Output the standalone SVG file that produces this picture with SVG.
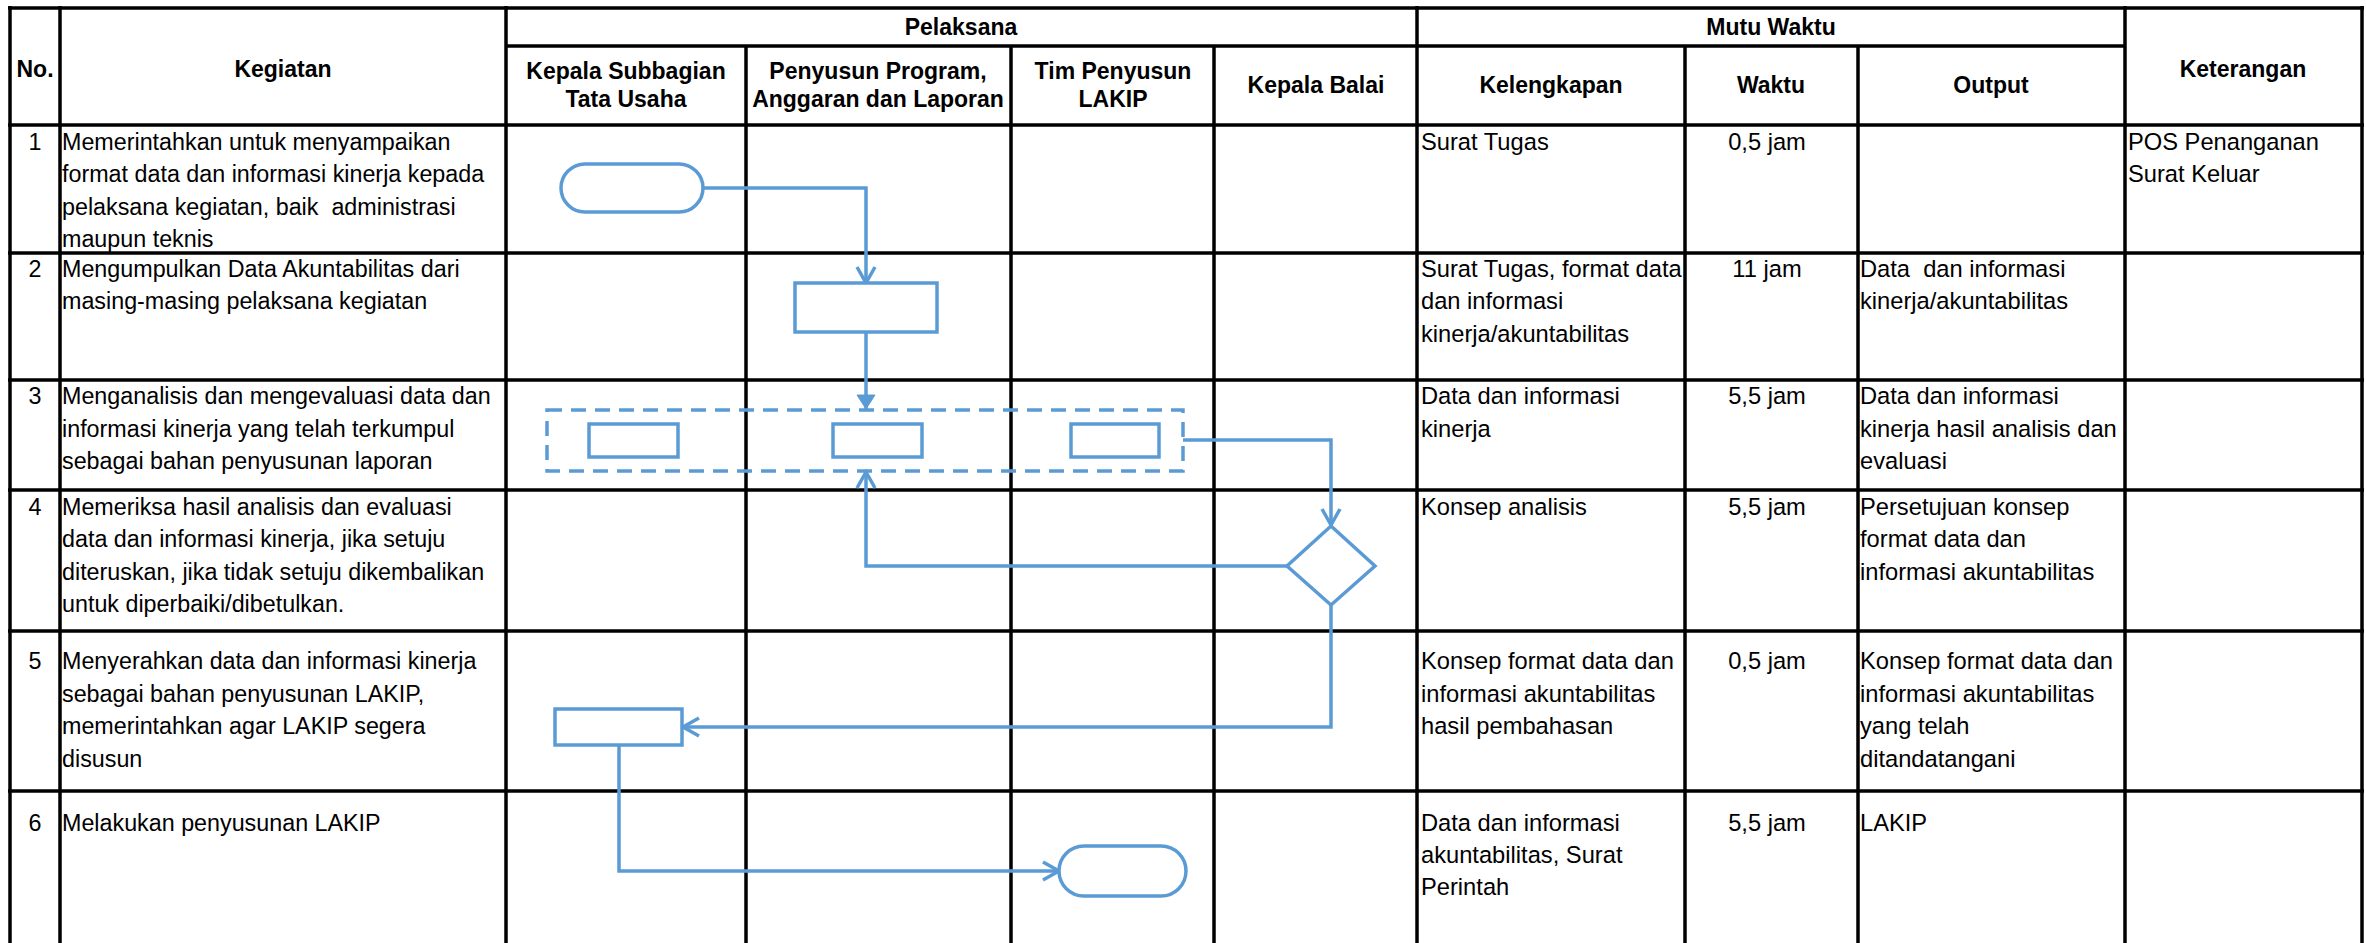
<svg xmlns="http://www.w3.org/2000/svg" width="2366" height="943" viewBox="0 0 2366 943">
<style>
  .grid line { stroke: #000; stroke-width: 3.5; }
  .h { font-family: "Liberation Sans", Arial, sans-serif; font-weight: bold; font-size: 23px; fill: #000; text-anchor: middle; }
  .t { font-family: "Liberation Sans", Arial, sans-serif; font-size: 23.3px; fill: #000; }
  .r { font-family: "Liberation Sans", Arial, sans-serif; font-size: 23.7px; fill: #000; }
  .c { text-anchor: middle; }
  .shape { fill: #fff; stroke: #5B9BD5; stroke-width: 3.5; }
  .dash { fill: none; stroke: #5B9BD5; stroke-width: 3.5; stroke-dasharray: 15 9; }
  .conn path { fill: none; stroke: #5B9BD5; stroke-width: 3.5; }
</style>
<defs>
  <marker id="open" markerUnits="userSpaceOnUse" markerWidth="26" markerHeight="26" viewBox="0 0 26 26" refX="21" refY="13" orient="auto" overflow="visible">
    <path d="M5,4 L21,13 L5,22" fill="none" stroke="#5B9BD5" stroke-width="3.5"/>
  </marker>
  <marker id="filled" markerUnits="userSpaceOnUse" markerWidth="26" markerHeight="26" viewBox="0 0 26 26" refX="21" refY="13" orient="auto" overflow="visible">
    <path d="M7,4 L21,13 L7,22 Z" fill="#5B9BD5" stroke="#5B9BD5" stroke-width="1"/>
  </marker>
</defs>
<rect x="0" y="0" width="2366" height="943" fill="#fff"/>

<g id="table" class="grid">
  <line x1="8" y1="8" x2="2364" y2="8"/>
  <line x1="506" y1="46" x2="2125" y2="46"/>
  <line x1="8" y1="125" x2="2364" y2="125"/>
  <line x1="8" y1="253" x2="2364" y2="253"/>
  <line x1="8" y1="380" x2="2364" y2="380"/>
  <line x1="8" y1="490" x2="2364" y2="490"/>
  <line x1="8" y1="631" x2="2364" y2="631"/>
  <line x1="8" y1="791" x2="2364" y2="791"/>
  <line x1="10" y1="6" x2="10" y2="943"/>
  <line x1="60" y1="6" x2="60" y2="943"/>
  <line x1="506" y1="6" x2="506" y2="943"/>
  <line x1="746" y1="46" x2="746" y2="943"/>
  <line x1="1011" y1="46" x2="1011" y2="943"/>
  <line x1="1214" y1="46" x2="1214" y2="943"/>
  <line x1="1417" y1="6" x2="1417" y2="943"/>
  <line x1="1685" y1="46" x2="1685" y2="943"/>
  <line x1="1858" y1="46" x2="1858" y2="943"/>
  <line x1="2125" y1="6" x2="2125" y2="943"/>
  <line x1="2362" y1="6" x2="2362" y2="943"/>
</g>

<g id="header">
  <text class="h" x="961" y="35">Pelaksana</text>
  <text class="h" x="1771" y="35">Mutu Waktu</text>
  <text class="h" x="35" y="77">No.</text>
  <text class="h" x="283" y="77">Kegiatan</text>
  <text class="h" x="2243" y="77">Keterangan</text>
  <text class="h" x="626" y="79">Kepala Subbagian<tspan x="626" y="107">Tata Usaha</tspan></text>
  <text class="h" x="878" y="79">Penyusun Program,<tspan x="878" y="107">Anggaran dan Laporan</tspan></text>
  <text class="h" x="1113" y="79">Tim Penyusun<tspan x="1113" y="107">LAKIP</tspan></text>
  <text class="h" x="1316" y="93">Kepala Balai</text>
  <text class="h" x="1551" y="93">Kelengkapan</text>
  <text class="h" x="1771" y="93">Waktu</text>
  <text class="h" x="1991" y="93">Output</text>
</g>

<g id="row1">
  <text class="t c" x="35" y="150">1</text>
  <text class="t" x="62" y="150">Memerintahkan untuk menyampaikan<tspan x="62" y="182">format data dan informasi kinerja kepada</tspan><tspan x="62" y="215" xml:space="preserve">pelaksana kegiatan, baik  administrasi</tspan><tspan x="62" y="247">maupun teknis</tspan></text>
  <text class="r" x="1421" y="150">Surat Tugas</text>
  <text class="r c" x="1767" y="150">0,5 jam</text>
  <text class="r" x="2128" y="150">POS Penanganan<tspan x="2128" y="182">Surat Keluar</tspan></text>
</g>

<g id="row2">
  <text class="t c" x="35" y="277">2</text>
  <text class="t" x="62" y="277">Mengumpulkan Data Akuntabilitas dari<tspan x="62" y="309">masing-masing pelaksana kegiatan</tspan></text>
  <text class="r" x="1421" y="277">Surat Tugas, format data<tspan x="1421" y="309">dan informasi</tspan><tspan x="1421" y="342">kinerja/akuntabilitas</tspan></text>
  <text class="r c" x="1767" y="277">11 jam</text>
  <text class="r" x="1860" y="277" xml:space="preserve">Data  dan informasi<tspan x="1860" y="309">kinerja/akuntabilitas</tspan></text>
</g>

<g id="row3">
  <text class="t c" x="35" y="404">3</text>
  <text class="t" x="62" y="404">Menganalisis dan mengevaluasi data dan<tspan x="62" y="437">informasi kinerja yang telah terkumpul</tspan><tspan x="62" y="469">sebagai bahan penyusunan laporan</tspan></text>
  <text class="r" x="1421" y="404">Data dan informasi<tspan x="1421" y="437">kinerja</tspan></text>
  <text class="r c" x="1767" y="404">5,5 jam</text>
  <text class="r" x="1860" y="404">Data dan informasi<tspan x="1860" y="437">kinerja hasil analisis dan</tspan><tspan x="1860" y="469">evaluasi</tspan></text>
</g>

<g id="row4">
  <text class="t c" x="35" y="515">4</text>
  <text class="t" x="62" y="515">Memeriksa hasil analisis dan evaluasi<tspan x="62" y="547">data dan informasi kinerja, jika setuju</tspan><tspan x="62" y="580">diteruskan, jika tidak setuju dikembalikan</tspan><tspan x="62" y="612">untuk diperbaiki/dibetulkan.</tspan></text>
  <text class="r" x="1421" y="515">Konsep analisis</text>
  <text class="r c" x="1767" y="515">5,5 jam</text>
  <text class="r" x="1860" y="515">Persetujuan konsep<tspan x="1860" y="547">format data dan</tspan><tspan x="1860" y="580">informasi akuntabilitas</tspan></text>
</g>

<g id="row5">
  <text class="t c" x="35" y="669">5</text>
  <text class="t" x="62" y="669">Menyerahkan data dan informasi kinerja<tspan x="62" y="702">sebagai bahan penyusunan LAKIP,</tspan><tspan x="62" y="734">memerintahkan agar LAKIP segera</tspan><tspan x="62" y="767">disusun</tspan></text>
  <text class="r" x="1421" y="669">Konsep format data dan<tspan x="1421" y="702">informasi akuntabilitas</tspan><tspan x="1421" y="734">hasil pembahasan</tspan></text>
  <text class="r c" x="1767" y="669">0,5 jam</text>
  <text class="r" x="1860" y="669">Konsep format data dan<tspan x="1860" y="702">informasi akuntabilitas</tspan><tspan x="1860" y="734">yang telah</tspan><tspan x="1860" y="767">ditandatangani</tspan></text>
</g>

<g id="row6">
  <text class="t c" x="35" y="831">6</text>
  <text class="t" x="62" y="831">Melakukan penyusunan LAKIP</text>
  <text class="r" x="1421" y="831">Data dan informasi<tspan x="1421" y="863">akuntabilitas, Surat</tspan><tspan x="1421" y="895">Perintah</tspan></text>
  <text class="r c" x="1767" y="831">5,5 jam</text>
  <text class="r" x="1860" y="831">LAKIP</text>
</g>

<g id="connectors" class="conn">
  <path d="M703,188 H866 V283" marker-end="url(#open)"/>
  <path d="M866,332 V409" marker-end="url(#filled)"/>
  <path d="M1183,440 H1331 V525" marker-end="url(#open)"/>
  <path d="M1287,566 H866 V472" marker-end="url(#open)"/>
  <path d="M1331,605 V727 H683" marker-end="url(#open)"/>
  <path d="M619,745 V871 H1059" marker-end="url(#open)"/>
</g>

<g id="start">
  <rect class="shape" x="561" y="164" width="142" height="48" rx="24" ry="24"/>
</g>
<g id="collect">
  <rect class="shape" x="795" y="283" width="142" height="49"/>
</g>
<g id="analyse">
  <rect class="dash" x="547" y="410" width="636" height="61"/>
  <rect class="shape" x="589" y="424" width="89" height="33"/>
  <rect class="shape" x="833" y="424" width="89" height="33"/>
  <rect class="shape" x="1071" y="424" width="88" height="33"/>
</g>
<g id="decision">
  <polygon class="shape" points="1331,526 1375,566 1331,605 1287,566"/>
</g>
<g id="handover">
  <rect class="shape" x="555" y="709" width="127" height="36"/>
</g>
<g id="end">
  <rect class="shape" x="1059" y="846" width="127" height="50" rx="25" ry="25"/>
</g>
</svg>
